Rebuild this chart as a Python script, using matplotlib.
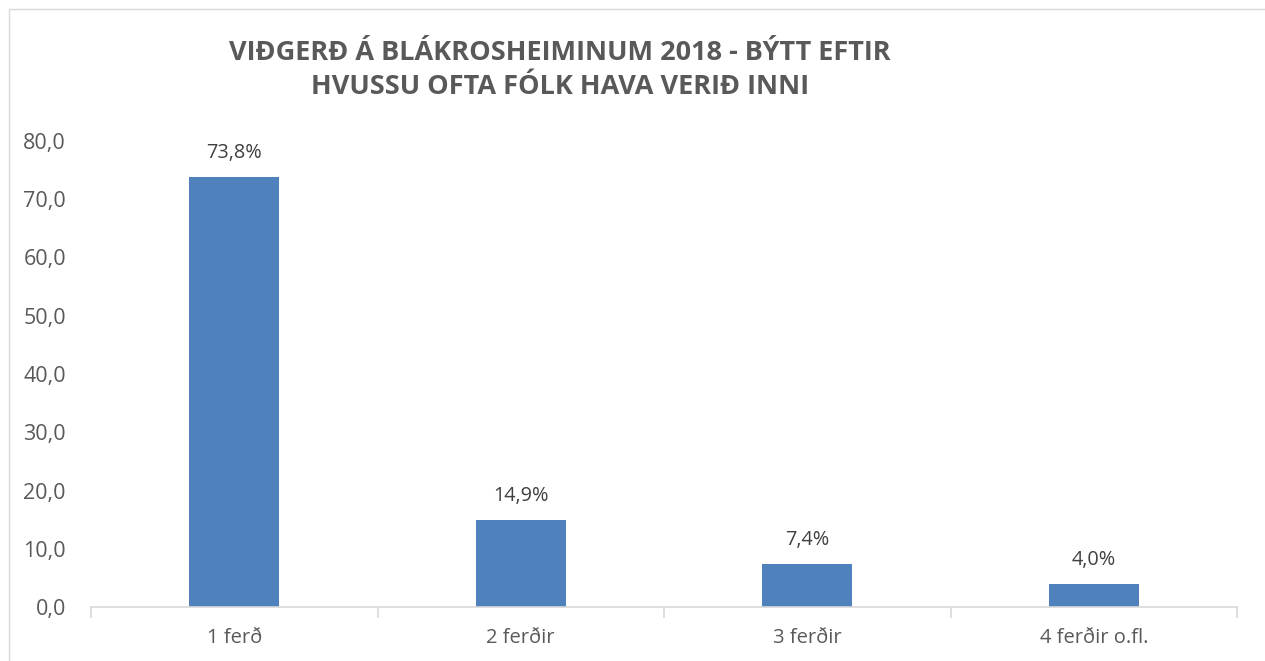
import matplotlib
matplotlib.use("Agg")
import matplotlib.pyplot as plt
from matplotlib.patches import Rectangle

categories = ["1 ferð", "2 ferðir", "3 ferðir", "4 ferðir o.fl."]
values = [73.8, 14.9, 7.4, 4.0]
yticks = [0, 10, 20, 30, 40, 50, 60, 70, 80]

title = "VIÐGERÐ Á BLÁKROSHEIMINUM 2018 - BÝTT EFTIR\nHVUSSU OFTA FÓLK HAVA VERIÐ INNI"

plt.rcParams['font.family'] = ['Open Sans', 'DejaVu Sans']

fig = plt.figure(figsize=(12.65, 6.61), dpi=100)
fig.patches.append(Rectangle((9 / 1265, -0.1), 1.2, 1 - 9 / 661 + 0.1,
                             transform=fig.transFigure, fill=False,
                             edgecolor="#d9d9d9", linewidth=1))

ax = fig.add_axes([91 / 1265, 1 - 607 / 661, (1237 - 91) / 1265, (607 - 141) / 661])

x = range(len(categories))
bars = ax.bar(x, values, width=0.314, color="#4f81bd", zorder=2)

for xi, v in zip(x, values):
    ax.annotate(f"{v:.1f}%".replace(".", ","), (xi, v), xytext=(0, 10),
                textcoords="offset points", ha="center", va="bottom",
                fontsize=14.3, color="#404040")

ax.set_xlim(-0.5, len(categories) - 0.5)
ax.set_ylim(0, 80)
ax.set_yticks(yticks)
ax.set_yticklabels([f"{t:.1f}".replace(".", ",") for t in yticks])
ax.set_xticks(list(x))
ax.set_xticklabels(categories)
ax.set_xticks([i - 0.5 for i in range(len(categories) + 1)], minor=True)

for s in ["top", "right", "left"]:
    ax.spines[s].set_visible(False)
ax.spines["bottom"].set_color("#d9d9d9")
ax.spines["bottom"].set_linewidth(1.2)

ax.tick_params(axis="y", length=0, pad=18, labelsize=15.5, labelcolor="#595959")
ax.tick_params(axis="x", which="major", length=0, pad=15, labelsize=14.5, labelcolor="#595959")
ax.tick_params(axis="x", which="minor", length=8, width=1.2, color="#d9d9d9")

fig.text(560 / 1265, 1 - 70 / 661, title, ha="center", va="center",
         fontsize=19.5, fontweight="bold", color="#595959", linespacing=1.45)

fig.savefig("out.png", dpi=100)
